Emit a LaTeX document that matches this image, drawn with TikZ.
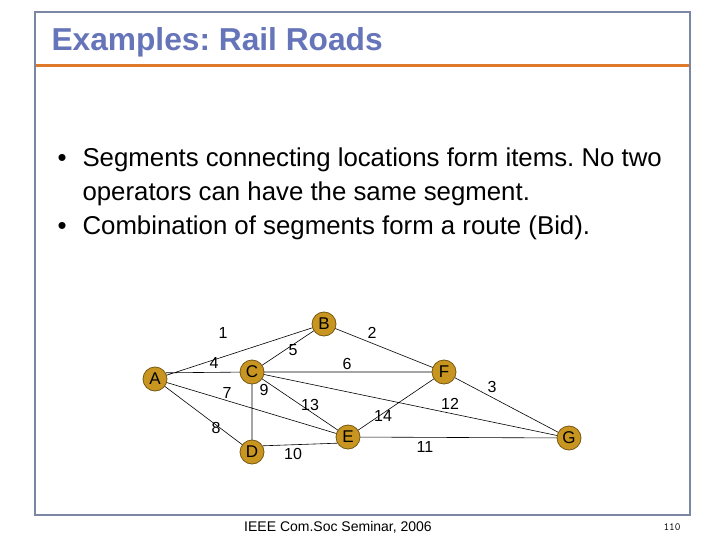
\documentclass[tikz,border=0pt]{standalone}
\usepackage{fontspec}
\setmainfont{Liberation Sans}
\usetikzlibrary{positioning,backgrounds}
\definecolor{framecol}{RGB}{122,134,163}
\definecolor{titlecol}{RGB}{102,117,186}
\definecolor{rulecol}{RGB}{222,122,42}
\definecolor{stationcol}{RGB}{200,150,32}
\definecolor{stationrim}{RGB}{120,88,20}

\begin{document}
\frenchspacing
\begin{tikzpicture}[x=1pt,y=-1pt,
 every node/.style={font=\fontsize{16}{18}\selectfont},
 station/.style={circle,draw=stationrim,fill=stationcol,line width=0.8pt,
   minimum size=24pt,inner sep=0pt,font=\fontsize{17}{18}\selectfont},
 track/.style={draw,black,line width=0.6pt},
 seg/.style={inner sep=0pt},
 big/.style={anchor=base west,font=\fontsize{25.8}{34}\selectfont}]
\useasboundingbox (0,0) rectangle (720,540);
\draw[framecol,line width=1.6pt] (35,12) rectangle (690,515);
\draw[rulecol,line width=3pt] (36,66) -- (689,66);
\node[anchor=base west,text=titlecol,font=\fontsize{31.7}{32}\selectfont\bfseries](title) at (48,51){Examples: Rail Roads};

% bullets
\node[big](b1) at (54,167){\textbullet};
\node[big](t1) at (79,167){Segments connecting locations form items. No two};
\node[big](t1b) at (79,201){operators can have the same segment.};
\node[big](b2) at (54,235){\textbullet};
\node[big](t2) at (79,235){Combination of segments form a route (Bid).};

% stations
\node[station](A) at (155,379){A};
\node[station](B) at (324,324){B};
\node[station](C) at (252,372){C};
\node[station](D) at (252,452){D};
\node[station](E) at (348,437){E};
\node[station](F) at (444,372){F};
\node[station](G) at (569,438){G};

% segments
\begin{scope}[on background layer]
\fill[white] (0,0) rectangle (720,540);
\path[track] (A.center)--(B.center) (B.center)--(F.center) (F.center)--(G.center)
 (A.30)--(C.center) (B.center)--(C.center) (C.center)--(F.center)
 (A.center)--(E.center) (A.center)--(D.center) (C.center)--(D.center)
 (D.30)--(E.210) (E.center)--(G.center) (C.center)--(G.center)
 (C.center)--(E.center) (E.center)--(F.center);
\end{scope}

% segment numbers
\node[seg](s1) at (223,333){1};
\node[seg](s2) at (372,333){2};
\node[seg](s3) at (492,387){3};
\node[seg](s4) at (214,363){4};
\node[seg](s5) at (293,350){5};
\node[seg](s6) at (347,364){6};
\node[seg](s7) at (227,393){7};
\node[seg](s8) at (216,428){8};
\node[seg](s9) at (264,390){9};
\node[seg](s10) at (293,454){10};
\node[seg](s11) at (425,447){11};
\node[seg](s12) at (450,404){12};
\node[seg](s13) at (310,405){13};
\node[seg](s14) at (383,416){14};

% footer
\node[font=\fontsize{14}{16}\selectfont](foot) at (338,527){IEEE Com.Soc Seminar, 2006};
\node[font=\fontsize{11}{12}\selectfont\ttfamily](page) at (672,527){110};
\end{tikzpicture}
\end{document}
